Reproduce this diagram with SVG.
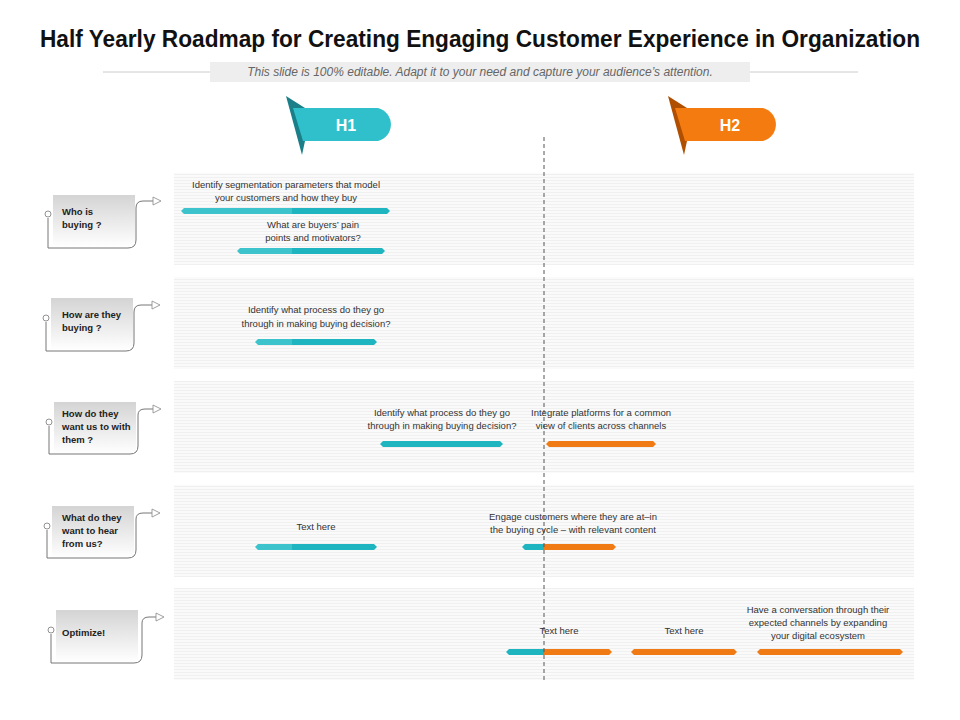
<svg xmlns="http://www.w3.org/2000/svg" width="960" height="720" viewBox="0 0 960 720">
<defs>
<linearGradient id="lg" x1="0" y1="0" x2="0" y2="1"><stop offset="0" stop-color="#d4d4d4"/><stop offset="1" stop-color="#ffffff"/></linearGradient>
<pattern id="st" width="4" height="3" patternUnits="userSpaceOnUse"><rect width="4" height="3" fill="#fafafa"/><rect width="4" height="1" fill="#f0f0f0"/></pattern>
<style>
text{font-family:"Liberation Sans",Arial,sans-serif;}
.t{font-size:9.5px;fill:#333;text-anchor:middle;}
.lb{font-size:9.5px;font-weight:bold;fill:#222;}
.band{fill:url(#st);}
.bx{fill:url(#lg);}
.ln{fill:none;stroke:#777;stroke-width:1;}
.tri{fill:#fff;stroke:#888;stroke-width:0.8;}
.c{fill:#fff;stroke:#777;stroke-width:0.8;}
.tl{fill:#1fb5c0;}
.tl2{fill:#3cc3cc;}
.or{fill:#f07a13;}
</style>
</defs>
<rect width="960" height="720" fill="#fff"/>
<text x="480" y="47" font-size="23" font-weight="bold" text-anchor="middle" fill="#111" style="font-family:'Liberation Sans Narrow','Liberation Sans',sans-serif" textLength="880" lengthAdjust="spacingAndGlyphs">Half Yearly Roadmap for Creating Engaging Customer Experience in Organization</text>
<line x1="103" y1="72" x2="858" y2="72" stroke="#ccc"/>
<rect x="210" y="62" width="540" height="20" fill="#eeeeee"/>
<text x="480" y="76" font-size="12" font-style="italic" fill="#666" text-anchor="middle">This slide is 100% editable. Adapt it to your need and capture your audience’s attention.</text>

<g id="h1"><polygon points="286,96 305,108 305,141 302,155" fill="#1a7f88"/><path d="M293,108 H378 A17,17 0 0 1 378,141 H303 Z" fill="#2fc0cc"/><text x="346" y="131" font-size="16" font-weight="bold" fill="#fff" text-anchor="middle">H1</text></g>
<g id="h2"><polygon points="668,96 687,108 687,141 684,155" fill="#b04f00"/><path d="M675,108 H763 A17,17 0 0 1 763,141 H685 Z" fill="#f47b0f"/><text x="730" y="131" font-size="16" font-weight="bold" fill="#fff" text-anchor="middle">H2</text></g>

<rect class="band" x="174" y="173" width="740" height="92"/>
<rect class="band" x="174" y="277" width="740" height="92"/>
<rect class="band" x="174" y="381" width="740" height="92"/>
<rect class="band" x="174" y="485" width="740" height="92"/>
<rect class="band" x="174" y="588" width="740" height="92"/>

<g id="r1"><rect class="bx" x="53" y="195" width="82" height="52"/><path class="ln" d="M48,218 V248 H128 Q136,248 136,240 V208 Q136,201 143,201 H154"/><circle class="c" cx="48" cy="214" r="3"/><polygon class="tri" points="153,197 161,201 153,205"/><text class="lb" x="62" y="215">Who is</text><text class="lb" x="62" y="228">buying ?</text></g>
<g id="r2"><rect class="bx" x="51" y="298" width="82" height="52"/><path class="ln" d="M46,322 V351 H126 Q134,351 134,343 V312 Q134,305 141,305 H152"/><circle class="c" cx="46" cy="318" r="3"/><polygon class="tri" points="152,301 160,305 152,309"/><text class="lb" x="62" y="318">How are they</text><text class="lb" x="62" y="331">buying ?</text></g>
<g id="r3"><rect class="bx" x="54" y="402" width="82" height="52"/><path class="ln" d="M49,426 V454 H130 Q138,454 138,446 V415 Q138,409 145,409 H153"/><circle class="c" cx="49" cy="422" r="3"/><polygon class="tri" points="153,405 161,409 153,413"/><text class="lb" x="62" y="417">How do they</text><text class="lb" x="62" y="430">want us to with</text><text class="lb" x="62" y="443">them ?</text></g>
<g id="r4"><rect class="bx" x="52" y="506" width="82" height="52"/><path class="ln" d="M47,530 V558 H128 Q136,558 136,550 V519 Q136,513 143,513 H152"/><circle class="c" cx="47" cy="526" r="3"/><polygon class="tri" points="152,509 160,513 152,517"/><text class="lb" x="62" y="521">What do they</text><text class="lb" x="62" y="534">want to hear</text><text class="lb" x="62" y="547">from us?</text></g>
<g id="r5"><rect class="bx" x="56" y="610" width="82" height="52"/><path class="ln" d="M51,634 V663 H134 Q142,663 142,655 V623 Q142,617 149,617 H156"/><circle class="c" cx="51" cy="630" r="3"/><polygon class="tri" points="156,613 164,617 156,621"/><text class="lb" x="62" y="636">Optimize!</text></g>

<g id="bars">
<polygon class="tl2" points="184,208 292,208 292,214 184,214 181,211"/><polygon class="tl" points="292,208 387,208 390,211 387,214 292,214"/>
<polygon class="tl2" points="240,248 292,248 292,254 240,254 237,251"/><polygon class="tl" points="292,248 382,248 385,251 382,254 292,254"/>
<polygon class="tl2" points="258,339 292,339 292,345 258,345 255,342"/><polygon class="tl" points="292,339 374,339 377,342 374,345 292,345"/>
<polygon class="tl" points="383,441 500,441 503,444 500,447 383,447 380,444"/>
<polygon class="or" points="549,441 653,441 656,444 653,447 549,447 546,444"/>
<polygon class="tl2" points="258,544 292,544 292,550 258,550 255,547"/><polygon class="tl" points="292,544 374,544 377,547 374,550 292,550"/>
<polygon class="tl" points="525,544 544,544 544,550 525,550 522,547"/><polygon class="or" points="544,544 613,544 616,547 613,550 544,550"/>
<polygon class="tl" points="509,649 544,649 544,655 509,655 506,652"/><polygon class="or" points="544,649 609,649 612,652 609,655 544,655"/>
<polygon class="or" points="634,649 734,649 737,652 734,655 634,655 631,652"/>
<polygon class="or" points="760,649 900,649 903,652 900,655 760,655 757,652"/>
</g>
<line x1="544" y1="137" x2="544" y2="682" stroke="#555" stroke-dasharray="4,3"/>

<g id="labels">
<text class="t" x="286" y="188">Identify segmentation parameters that model</text><text class="t" x="286" y="201">your customers and how they buy</text>
<text class="t" x="313" y="228">What are buyers’ pain</text><text class="t" x="313" y="241">points and motivators?</text>
<text class="t" x="316" y="313">Identify what process do they go</text><text class="t" x="316" y="327">through in making buying decision?</text>
<text class="t" x="442" y="416">Identify what process do they go</text><text class="t" x="442" y="429">through in making buying decision?</text>
<text class="t" x="601" y="416">Integrate platforms for a common</text><text class="t" x="601" y="429">view of clients across channels</text>
<text class="t" x="316" y="530">Text here</text>
<text class="t" x="573" y="520">Engage customers where they are at–in</text><text class="t" x="573" y="533">the buying cycle – with relevant content</text>
<text class="t" x="559" y="634">Text here</text>
<text class="t" x="684" y="634">Text here</text>
<text class="t" x="818" y="613">Have a conversation through their</text><text class="t" x="818" y="626">expected channels by expanding</text><text class="t" x="818" y="639">your digital ecosystem</text>
</g>
</svg>
